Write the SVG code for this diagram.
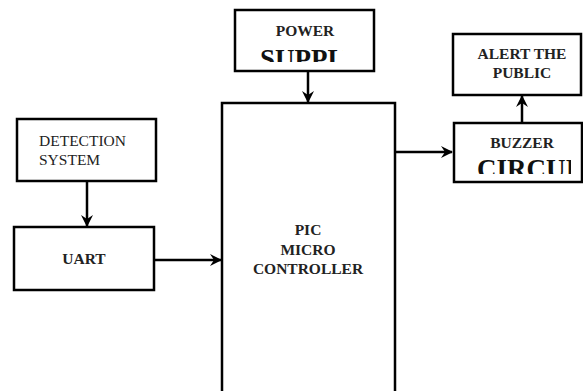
<svg xmlns="http://www.w3.org/2000/svg" width="583" height="391" viewBox="0 0 583 391">
<style>
.box{fill:#fff;stroke:#000;stroke-width:2.5}
.b{font-family:"Liberation Serif",serif;font-weight:bold;font-size:15.5px;fill:#222;text-anchor:middle}
.r{font-family:"Liberation Serif",serif;font-size:15.5px;fill:#222}
.big{font-family:"Liberation Serif",serif;font-weight:bold;font-size:27px;fill:#111}
.ln{stroke:#000;stroke-width:2.5;fill:none;marker-end:url(#ah)}
</style>
<defs>
<marker id="ah" markerWidth="12" markerHeight="12" refX="11" refY="6" orient="auto" markerUnits="userSpaceOnUse">
<path d="M0,0 L12,6 L0,12 L4,6 Z" fill="#000"/>
</marker>
<clipPath id="c1"><rect x="240" y="40" width="103" height="22"/></clipPath>
<clipPath id="c2"><rect x="460" y="150" width="111" height="24"/></clipPath>
</defs>
<g id="connectors">
<line class="ln" x1="308" y1="71" x2="308" y2="102"/>
<line class="ln" x1="87" y1="181" x2="87" y2="226"/>
<line class="ln" x1="154" y1="260" x2="221" y2="260"/>
<line class="ln" x1="395" y1="152" x2="452" y2="152"/>
<line class="ln" x1="522" y1="123" x2="522" y2="96"/>
</g>
<g id="power">
<rect class="box" x="235" y="10" width="139" height="61"/>
<text class="b" x="305" y="36">POWER</text>
<text class="big" x="260" y="68" clip-path="url(#c1)">SUPPLY</text>
</g>
<g id="micro">
<rect class="box" x="222" y="103" width="173" height="300"/>
<text class="b" x="308" y="235">PIC</text>
<text class="b" x="308" y="255">MICRO</text>
<text class="b" x="308" y="274">CONTROLLER</text>
</g>
<g id="detection">
<rect class="box" x="17" y="119" width="139" height="62"/>
<text class="r" x="39" y="146">DETECTION</text>
<text class="r" x="39" y="165">SYSTEM</text>
</g>
<g id="uart">
<rect class="box" x="14" y="227" width="140" height="63"/>
<text class="b" x="84" y="264">UART</text>
</g>
<g id="alert">
<rect class="box" x="453" y="34" width="128" height="61"/>
<text class="b" x="522" y="59">ALERT THE</text>
<text class="b" x="522" y="78">PUBLIC</text>
</g>
<g id="buzzer">
<rect class="box" x="454" y="123" width="128" height="59"/>
<text class="b" x="522" y="148">BUZZER</text>
<text class="big" x="477" y="178" clip-path="url(#c2)">CIRCUIT</text>
</g>
</svg>
